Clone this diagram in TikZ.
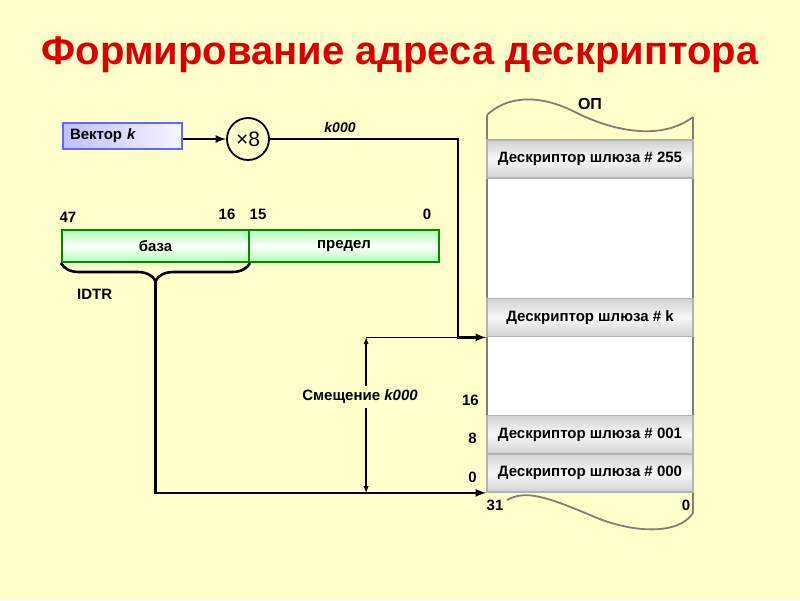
\documentclass[tikz,border=0pt]{standalone}
\usepackage{fontspec}
\setmainfont{Liberation Sans}
\usetikzlibrary{arrows,positioning,calc,decorations.pathreplacing}
\definecolor{bgyellow}{RGB}{255,255,204}
\definecolor{titlered}{RGB}{218,0,0}
\definecolor{memgray}{RGB}{128,128,112}
\tikzset{
  lbl/.style={font=\bfseries\fontsize{15}{17}\selectfont, inner sep=1pt},
  descbox/.style={draw=gray!60, line width=1.8pt, minimum width=206pt, minimum height=38pt,
    top color=gray!35, bottom color=gray!35, middle color=gray!6, lbl},
  regbox/.style={draw=green!55!black, line width=2pt, minimum height=32pt,
    top color=green!30, bottom color=green!30, middle color=white, lbl},
  vecbox/.style={draw=blue!60, line width=2pt, minimum width=119pt, minimum height=26pt,
    text width=105pt, align=left, left color=blue!25, right color=blue!4, lbl},
  memline/.style={draw=memgray, line width=1.8pt},
  conn/.style={line width=2.6pt},
}
\begin{document}
\begin{tikzpicture}[x=1pt,y=-1pt]
	\fill [bgyellow] (0,0) rectangle (800,600);
	\useasboundingbox (0,0) rectangle (800,600);
	% title
	\node [titlered, font=\bfseries\fontsize{40}{44}\selectfont] (title) at (400,55) {Формирование адреса дескриптора};
	% memory column
	\fill [white] (487,178) rectangle (693,454);
	\draw [memline] (487,115) -- (487,492);
	\draw [memline] (693,117) -- (693,513);
	\draw [memline] (487,115) .. controls (505,98) and (535,92) .. (575,112) .. controls (610,130) and (660,142) .. (693,117);
	\draw [memline] (507,500) .. controls (525,490) and (545,496) .. (590,515) .. controls (630,533) and (678,536) .. (693,513);
	\node [lbl, font=\bfseries\fontsize{16}{18}\selectfont] (op) at (590,104) {ОП};
	\node [descbox] (desc255) at (590,159) {Дескриптор шлюза \# 255};
	\node [descbox] (desck) at (590,317.5) {Дескриптор шлюза \# k};
	\node [descbox] (desc001) at (590,434.5) {Дескриптор шлюза \# 001};
	\node [descbox] (desc000) at (590,473) {Дескриптор шлюза \# 000};
	\node [lbl, anchor=east] (n16) at (480,400) {16};
	\node [lbl, anchor=east] (n8) at (478,438) {8};
	\node [lbl, anchor=east] (n0) at (478,477) {0};
	\node [lbl] (n31) at (495,505) {31};
	\node [lbl] (nr0) at (686,505) {0};
	% vector and multiplier
	\node [vecbox] (vec) at (122.5,136) {Вектор \textit{k}};
	\node [circle, draw, line width=1.8pt, minimum size=42pt, inner sep=0pt, font=\fontsize{21}{23}\selectfont] (mul) at (248,139) {×8};
	\draw [conn, -latex] (vec.east |- mul.west) -- (mul.west);
	\coordinate (turn) at ($(desck.south west)+(-28,0)$);
	\draw [conn, -latex] (mul.east) -| (turn) -- (desck.south west);
	\node [lbl, font=\bfseries\itshape\fontsize{14}{16}\selectfont] (kk) at (340,127) {k000};
	% IDTR register
	\node [regbox, minimum width=187pt] (base) at (155.5,246) {база};
	\node [regbox, minimum width=190pt, right=-2pt of base] (limit) {предел};
	\node [lbl] (b47) at (68,217) {47};
	\node [lbl] (b16) at (227,214) {16};
	\node [lbl] (b15) at (258,214) {15};
	\node [lbl] (b0) at (427,214) {0};
	\node [lbl, anchor=west] (idtr) at (76,294) {IDTR};
	\draw [conn, decorate, decoration={brace, mirror, amplitude=18pt}] (base.south west) -- (base.south east);
	\coordinate (tip) at ($(base.south)+(0,18)$);
	\draw [conn, -latex] (tip) |- (desc000.south west);
	% offset
	\coordinate (offtop) at ($(desck.south west)+(-120,0)$);
	\coordinate (offbot) at (offtop |- desc000.south west);
	\draw [line width=1.3pt] (offtop) -- (turn);
	\draw [line width=1.3pt, latex-latex] (offtop) -- (offbot);
	\node [lbl, fill=bgyellow, inner sep=4pt] (off) at (360,397) {Смещение \textit{k000}};
\end{tikzpicture}
\end{document}
